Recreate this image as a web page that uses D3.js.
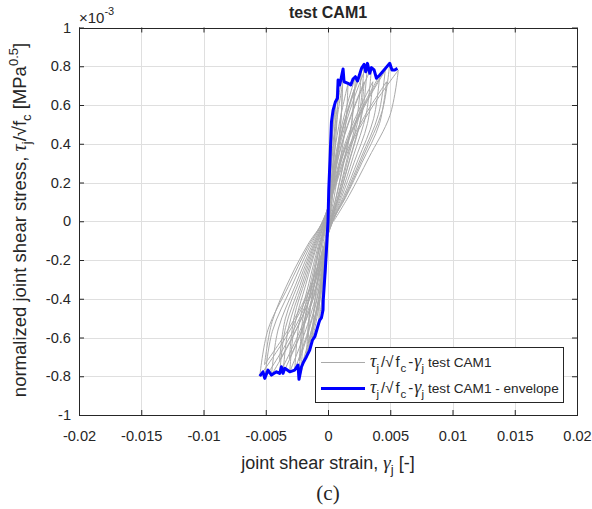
<!DOCTYPE html>
<html>
<head>
<meta charset="utf-8">
<script src="https://cdn.jsdelivr.net/npm/d3@7"></script>
<style>
  html, body { margin: 0; padding: 0; background: #fff; }
  svg { display: block; }
  text { font-family: Arial, "Liberation Sans", Helvetica, sans-serif; fill: #262626; }
  .greek { font-family: "Liberation Serif", "Times New Roman", serif; font-style: italic; }
</style>
</head>
<body>
<svg id="chart" width="592" height="509"></svg>
<script>
// Axis ticks (strain in [-], stress in units of 1e-3 MPa^0.5)
const strainTicks = [-0.02, -0.015, -0.01, -0.005, 0, 0.005, 0.01, 0.015, 0.02];
const strainTickLabels = ["-0.02", "-0.015", "-0.01", "-0.005", "0", "0.005", "0.01", "0.015", "0.02"];
const stressTicks = [-1, -0.8, -0.6, -0.4, -0.2, 0, 0.2, 0.4, 0.6, 0.8, 1];
const stressTickLabels = ["-1", "-0.8", "-0.6", "-0.4", "-0.2", "0", "0.2", "0.4", "0.6", "0.8", "1"];

// Envelope of the cyclic response, from the negative end to the positive end
const envelopeStrain = [-0.00548, -0.00522, -0.00508, -0.00482, -0.00454, -0.00414, -0.00388, -0.00374,
  -0.00361, -0.00347, -0.00307, -0.00267, -0.00241, -0.00233, -0.00213, -0.00195, -0.00173, -0.00147,
  -0.00125, -0.00106, -0.00074, -0.00066, -0.00053, -0.0004, -0.00038, -0.00022, -0.00008, 0,
  0.00006, 0.00016, 0.00022, 0.00028, 0.00041, 0.0006, 0.00076, 0.00081, 0.00094, 0.00121, 0.00129,
  0.00161, 0.00183, 0.00201, 0.0022, 0.00237, 0.00269, 0.0029, 0.00303, 0.00317, 0.00335, 0.00349,
  0.0037, 0.00389, 0.00416, 0.00461, 0.00496, 0.00514, 0.00536, 0.00558];
const envelopeStress = [-0.799, -0.777, -0.811, -0.768, -0.794, -0.777, -0.785, -0.751,
  -0.785, -0.759, -0.777, -0.768, -0.742, -0.816, -0.751, -0.725, -0.699, -0.665,
  -0.613, -0.596, -0.525, -0.510, -0.499, -0.458, -0.406, -0.252, -0.097, 0,
  0.161, 0.316, 0.419, 0.514, 0.574, 0.617, 0.635, 0.729, 0.703, 0.786, 0.720,
  0.712, 0.703, 0.734, 0.746, 0.724, 0.789, 0.810, 0.772, 0.815, 0.764, 0.793,
  0.781, 0.738, 0.755, 0.789, 0.815, 0.781, 0.781, 0.789];

// Hysteresis cycles [strain, stress]: reload to +peak, unload, reload to -peak, unload
const cycles = [
  [[0, 0], [0.000084, 0.245], [0.000174, 0.383], [0.00028, 0.51], [0.000246, 0.357], [0.000162, 0.214], [0.000084, 0.087], [0.000022, 0],
   [-0.000159, -0.24], [-0.000329, -0.375], [-0.00053, -0.50], [-0.000466, -0.35], [-0.000307, -0.21], [-0.000159, -0.085], [-0.000042, 0]],
  [[0.00018, 0.298], [0.000372, 0.465], [0.0006, 0.62], [0.000528, 0.434], [0.000348, 0.26], [0.00018, 0.105], [0.000048, 0],
   [-0.000222, -0.252], [-0.000459, -0.394], [-0.00074, -0.525], [-0.000651, -0.368], [-0.000429, -0.22], [-0.000222, -0.089], [-0.000059, 0]],
  [[0.000243, 0.35], [0.000502, 0.548], [0.00081, 0.73], [0.000713, 0.511], [0.00047, 0.307], [0.000243, 0.124], [0.000065, 0],
   [-0.000375, -0.293], [-0.000775, -0.458], [-0.00125, -0.61], [-0.0011, -0.427], [-0.000725, -0.256], [-0.000375, -0.104], [-0.0001, 0]],
  [[0.000363, 0.377], [0.00075, 0.59], [0.00121, 0.786], [0.001065, 0.55], [0.000702, 0.33], [0.000363, 0.134], [0.000097, 0],
   [-0.000519, -0.336], [-0.001073, -0.525], [-0.00173, -0.70], [-0.001522, -0.49], [-0.001003, -0.294], [-0.000519, -0.119], [-0.000138, 0]],
  [[0.000345, 0.336], [0.000713, 0.525], [0.00115, 0.70], [0.001012, 0.49], [0.000667, 0.294], [0.000345, 0.119], [0.000092, 0],
   [-0.00048, -0.302], [-0.000992, -0.473], [-0.0016, -0.63], [-0.001408, -0.441], [-0.000928, -0.265], [-0.00048, -0.107], [-0.000128, 0]],
  [[0.000483, 0.342], [0.000998, 0.534], [0.00161, 0.712], [0.001417, 0.498], [0.000934, 0.299], [0.000483, 0.121], [0.000129, 0],
   [-0.000639, -0.36], [-0.001321, -0.563], [-0.00213, -0.75], [-0.001874, -0.525], [-0.001235, -0.315], [-0.000639, -0.128], [-0.00017, 0]],
  [[0.00066, 0.358], [0.001364, 0.56], [0.0022, 0.746], [0.001936, 0.522], [0.001276, 0.313], [0.00066, 0.127], [0.000176, 0],
   [-0.000699, -0.392], [-0.001445, -0.612], [-0.00233, -0.816], [-0.00205, -0.571], [-0.001351, -0.343], [-0.000699, -0.139], [-0.000186, 0]],
  [[0.00063, 0.326], [0.001302, 0.51], [0.0021, 0.68], [0.001848, 0.476], [0.001218, 0.286], [0.00063, 0.116], [0.000168, 0],
   [-0.00069, -0.346], [-0.001426, -0.54], [-0.0023, -0.72], [-0.002024, -0.504], [-0.001334, -0.302], [-0.00069, -0.122], [-0.000184, 0]],
  [[0.000807, 0.379], [0.001668, 0.592], [0.00269, 0.789], [0.002367, 0.552], [0.00156, 0.331], [0.000807, 0.134], [0.000215, 0],
   [-0.000801, -0.369], [-0.001655, -0.576], [-0.00267, -0.768], [-0.00235, -0.538], [-0.001549, -0.323], [-0.000801, -0.131], [-0.000214, 0]],
  [[0.00087, 0.389], [0.001798, 0.608], [0.0029, 0.81], [0.002552, 0.567], [0.001682, 0.34], [0.00087, 0.138], [0.000232, 0],
   [-0.000921, -0.373], [-0.001903, -0.583], [-0.00307, -0.777], [-0.002702, -0.544], [-0.001781, -0.326], [-0.000921, -0.132], [-0.000246, 0]],
  [[0.00087, 0.346], [0.001798, 0.54], [0.0029, 0.72], [0.002552, 0.504], [0.001682, 0.302], [0.00087, 0.122], [0.000232, 0],
   [-0.00093, -0.341], [-0.001922, -0.533], [-0.0031, -0.71], [-0.002728, -0.497], [-0.001798, -0.298], [-0.00093, -0.121], [-0.000248, 0]],
  [[0.000951, 0.391], [0.001965, 0.611], [0.00317, 0.815], [0.00279, 0.571], [0.001839, 0.342], [0.000951, 0.139], [0.000254, 0],
   [-0.001083, -0.377], [-0.002238, -0.589], [-0.00361, -0.785], [-0.003177, -0.55], [-0.002094, -0.33], [-0.001083, -0.133], [-0.000289, 0]],
  [[0.001047, 0.381], [0.002164, 0.595], [0.00349, 0.793], [0.003071, 0.555], [0.002024, 0.333], [0.001047, 0.135], [0.000279, 0],
   [-0.001164, -0.377], [-0.002406, -0.589], [-0.00388, -0.785], [-0.003414, -0.55], [-0.00225, -0.33], [-0.001164, -0.133], [-0.00031, 0]],
  [[0.00108, 0.346], [0.002232, 0.54], [0.0036, 0.72], [0.003168, 0.504], [0.002088, 0.302], [0.00108, 0.122], [0.000288, 0],
   [-0.00117, -0.346], [-0.002418, -0.54], [-0.0039, -0.72], [-0.003432, -0.504], [-0.002262, -0.302], [-0.00117, -0.122], [-0.000312, 0]],
  [[0.001248, 0.362], [0.002579, 0.566], [0.00416, 0.755], [0.003661, 0.529], [0.002413, 0.317], [0.001248, 0.128], [0.000333, 0],
   [-0.001362, -0.381], [-0.002815, -0.596], [-0.00454, -0.794], [-0.003995, -0.556], [-0.002633, -0.333], [-0.001362, -0.135], [-0.000363, 0]],
  [[0.001383, 0.379], [0.002858, 0.592], [0.00461, 0.789], [0.004057, 0.552], [0.002674, 0.331], [0.001383, 0.134], [0.000369, 0],
   [-0.001524, -0.389], [-0.00315, -0.608], [-0.00508, -0.811], [-0.00447, -0.568], [-0.002946, -0.341], [-0.001524, -0.138], [-0.000406, 0]],
  [[0.00141, 0.346], [0.002914, 0.54], [0.0047, 0.72], [0.004136, 0.504], [0.002726, 0.302], [0.00141, 0.122], [0.000376, 0],
   [-0.00153, -0.355], [-0.003162, -0.555], [-0.0051, -0.74], [-0.004488, -0.518], [-0.00306, -0.296], [-0.00153, -0.111], [-0.000408, 0]],
  [[0.001488, 0.391], [0.003075, 0.611], [0.00496, 0.815], [0.004365, 0.571], [0.002877, 0.342], [0.001488, 0.139], [0.000397, 0],
   [-0.001644, -0.384], [-0.003398, -0.6], [-0.00548, -0.80], [-0.004822, -0.56], [-0.003178, -0.336], [-0.001644, -0.136], [-0.000438, 0]],
  [[0.001695, 0.374], [0.003503, 0.585], [0.00565, 0.78], [0.004972, 0.546], [0.003277, 0.328], [0.001695, 0.133], [0.000452, 0]]
];

const W = 592, H = 509;
const plot = { left: 79, right: 577, top: 27.5, bottom: 415 };
const axisColor = "#262626";

const svg = d3.select("#chart");
svg.append("rect").attr("width", W).attr("height", H).attr("fill", "#fff");

const x = d3.scaleLinear().domain([-0.02, 0.02]).range([plot.left, plot.right]);
const y = d3.scaleLinear().domain([-1, 1]).range([plot.bottom, plot.top]);

// Grid
const grid = svg.append("g").attr("stroke", "#dfdfdf").attr("stroke-width", 1);
grid.selectAll(".gx").data(strainTicks.slice(1, -1)).join("line")
  .attr("x1", d => Math.round(x(d)) + 0.5).attr("x2", d => Math.round(x(d)) + 0.5)
  .attr("y1", plot.top).attr("y2", plot.bottom);
grid.selectAll(".gy").data(stressTicks.slice(1, -1)).join("line")
  .attr("y1", d => Math.round(y(d)) + 0.5).attr("y2", d => Math.round(y(d)) + 0.5)
  .attr("x1", plot.left).attr("x2", plot.right);

// Cyclic response: split into branches at each reversal of strain direction
const allPts = [].concat(...cycles);
const branches = [];
let cur = [allPts[0]];
for (let i = 1; i < allPts.length; i++) {
  cur.push(allPts[i]);
  if (i < allPts.length - 1) {
    const a = allPts[i][0] - allPts[i - 1][0];
    const b = allPts[i + 1][0] - allPts[i][0];
    if (a * b < 0) { branches.push(cur); cur = [allPts[i]]; }
  }
}
branches.push(cur);

const branchLine = d3.line().x(d => x(d[0])).y(d => y(d[1])).curve(d3.curveCatmullRom.alpha(0.5));
svg.append("clipPath").attr("id", "plotclip").append("rect")
  .attr("x", plot.left).attr("y", plot.top).attr("width", plot.right - plot.left).attr("height", plot.bottom - plot.top);

const data = svg.append("g").attr("clip-path", "url(#plotclip)");
data.append("g").selectAll("path").data(branches).join("path")
  .attr("d", branchLine).attr("fill", "none").attr("stroke", "#a9a9a9").attr("stroke-width", 1);

const envelope = envelopeStrain.map((s, i) => [s, envelopeStress[i]]);
data.append("path").datum(envelope)
  .attr("d", d3.line().x(d => x(d[0])).y(d => y(d[1])))
  .attr("fill", "none").attr("stroke", "#0000ff").attr("stroke-width", 3).attr("stroke-linejoin", "round");

// Axes (ticks point inward on all four sides)
function styleAxis(g) {
  g.select(".domain").attr("stroke", axisColor);
  g.selectAll(".tick line").attr("stroke", axisColor);
  g.selectAll(".tick text").attr("fill", axisColor).style("font-size", "14.6px")
    .style("font-family", "Arial, 'Liberation Sans', sans-serif");
}
svg.append("g").attr("transform", `translate(0,${plot.bottom})`)
  .call(d3.axisBottom(x).tickValues(strainTicks).tickFormat((d, i) => strainTickLabels[i])
    .tickSizeInner(-5).tickSizeOuter(0).tickPadding(16))
  .call(styleAxis);
svg.append("g").attr("transform", `translate(0,${plot.top})`)
  .call(d3.axisTop(x).tickValues(strainTicks).tickFormat("").tickSizeInner(-5).tickSizeOuter(0))
  .call(styleAxis);
svg.append("g").attr("transform", `translate(${plot.left},0)`)
  .call(d3.axisLeft(y).tickValues(stressTicks).tickFormat((d, i) => stressTickLabels[i])
    .tickSizeInner(-5).tickSizeOuter(0).tickPadding(8))
  .call(styleAxis);
svg.append("g").attr("transform", `translate(${plot.right},0)`)
  .call(d3.axisRight(y).tickValues(stressTicks).tickFormat("").tickSizeInner(-5).tickSizeOuter(0))
  .call(styleAxis);
svg.selectAll(".domain").attr("shape-rendering", "crispEdges");

// Exponent of the stress axis
const expo = svg.append("text").attr("x", 79).attr("y", 23).style("font-size", "15px");
expo.append("tspan").text("\u00d710");
expo.append("tspan").attr("dy", -8).style("font-size", "11px").text("-3");

// Title
svg.append("text").attr("x", (plot.left + plot.right) / 2).attr("y", 18)
  .attr("text-anchor", "middle").style("font-size", "16px").style("font-weight", "bold").attr("fill", "#000")
  .text("test CAM1");

// X label
const xl = svg.append("text").attr("x", 328).attr("y", 469).attr("text-anchor", "middle")
  .style("font-size", "18px");
xl.append("tspan").text("joint shear strain, ");
xl.append("tspan").attr("class", "greek").style("font-size", "19px").text("\u03b3");
xl.append("tspan").attr("dy", 5).style("font-size", "13px").text("j");
xl.append("tspan").attr("dy", -5).text(" [-]");

// Y label
const yl = svg.append("text").attr("transform", "translate(26,220) rotate(-90)")
  .attr("text-anchor", "middle").style("font-size", "18.5px");
yl.append("tspan").text("normalized joint shear stress, ");
yl.append("tspan").attr("class", "greek").style("font-size", "20px").text("\u03c4");
yl.append("tspan").attr("dy", 5).style("font-size", "13px").text("j");
yl.append("tspan").attr("dy", -5).text("/\u221af");
yl.append("tspan").attr("dy", 5).style("font-size", "13px").text("c");
yl.append("tspan").attr("dy", -5).text(" [MPa");
yl.append("tspan").attr("dy", -8).style("font-size", "13px").text("0.5");
yl.append("tspan").attr("dy", 8).text("]");

// Legend
const legend = svg.append("g");
legend.append("rect").attr("x", 315.5).attr("y", 347.5).attr("width", 248).attr("height", 55)
  .attr("fill", "#fff").attr("stroke", axisColor).attr("stroke-width", 1);
const legendItems = [
  { color: "#a9a9a9", width: 1, suffix: "test CAM1" },
  { color: "#0000ff", width: 3, suffix: "test CAM1 - envelope" }
];
legendItems.forEach((item, i) => {
  const ly = 362.5 + i * 26;
  legend.append("line").attr("x1", 321).attr("x2", 365).attr("y1", ly).attr("y2", ly)
    .attr("stroke", item.color).attr("stroke-width", item.width);
  const t = legend.append("text").attr("x", 370).attr("y", ly + 4).style("font-size", "15px");
  t.append("tspan").attr("class", "greek").style("font-size", "18px").text("\u03c4");
  t.append("tspan").attr("dy", 5).style("font-size", "11.5px").text("j");
  t.append("tspan").attr("dy", -5).attr("dx", 2).text("/\u221a");
  t.append("tspan").attr("dx", 2).text("f");
  t.append("tspan").attr("dy", 5).attr("dx", 1).style("font-size", "11.5px").text("c");
  t.append("tspan").attr("dy", -5).attr("dx", 2).text("-");
  t.append("tspan").attr("class", "greek").attr("dx", 1).style("font-size", "18px").text("\u03b3");
  t.append("tspan").attr("dy", 5).style("font-size", "11.5px").text("j");
  legend.append("text").attr("x", 428).attr("y", ly + 4).style("font-size", "13.6px").text(item.suffix);
});

// Panel caption
svg.append("text").attr("x", 328).attr("y", 500).attr("text-anchor", "middle")
  .style("font-family", "'Liberation Serif', 'Times New Roman', serif").style("font-size", "21px").attr("fill", "#000")
  .text("(c)");
</script>
</body>
</html>
